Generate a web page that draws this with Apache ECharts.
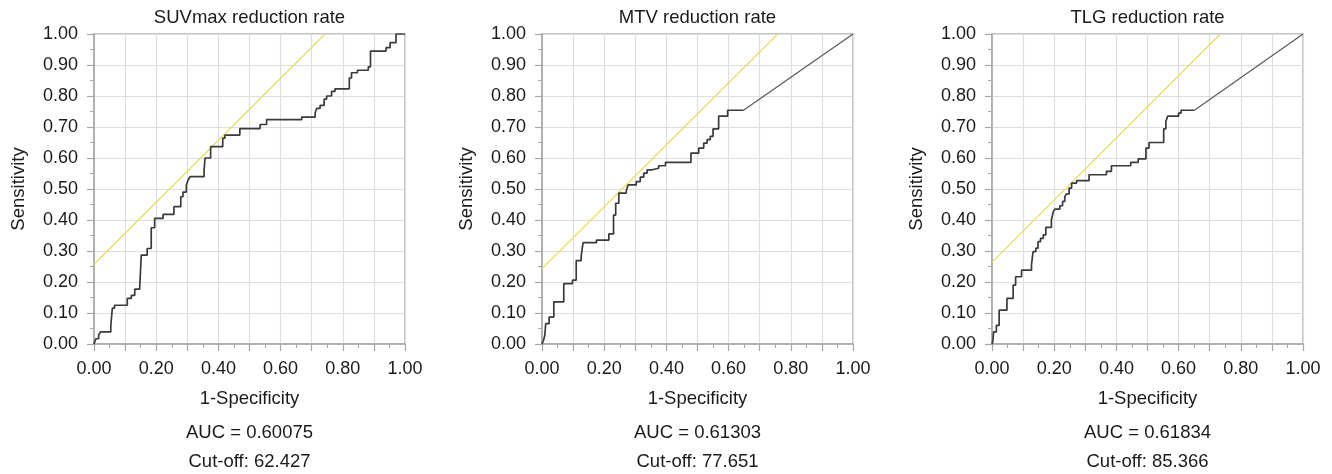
<!DOCTYPE html>
<html>
<head>
<meta charset="utf-8">
<title>ROC curves</title>
<script src="https://cdn.jsdelivr.net/npm/echarts@6/dist/echarts.min.js"></script>
<style>
html, body { margin: 0; padding: 0; background: #fff; }
#rocChart { width: 1332px; height: 474px; }
</style>
</head>
<body>
<div id="rocChart"></div>
<script>
// texts of the three panels
const panelTitles = ["SUVmax reduction rate", "MTV reduction rate", "TLG reduction rate"];
const aucValues = ["0.60075", "0.61303", "0.61834"];
const cutoffValues = ["62.427", "77.651", "85.366"];

// SUVmax: step points (1-specificity, sensitivity)
const suvFpr = [0, 0.006, 0.015, 0.021, 0.054, 0.059, 0.066, 0.107, 0.120, 0.131, 0.147, 0.152, 0.171, 0.184,
  0.195, 0.222, 0.257, 0.279, 0.286, 0.297, 0.303, 0.309, 0.354, 0.357, 0.375, 0.414, 0.421, 0.469, 0.534,
  0.555, 0.668, 0.711, 0.716, 0.727, 0.740, 0.748, 0.764, 0.775, 0.821, 0.828, 0.847, 0.882, 0.889, 0.939,
  0.952, 0.971, 1.0];
const suvTpr = [0, 0.017, 0.03, 0.039, 0.058, 0.116, 0.125, 0.147, 0.157, 0.177, 0.184, 0.287, 0.308, 0.375,
  0.405, 0.418, 0.443, 0.475, 0.49, 0.513, 0.53, 0.54, 0.56, 0.60, 0.637, 0.664, 0.674, 0.695, 0.708,
  0.724, 0.732, 0.745, 0.76, 0.77, 0.79, 0.80, 0.815, 0.823, 0.858, 0.875, 0.883, 0.894, 0.945, 0.956,
  0.972, 1.0, 1.0];
const suvRefX = [0, 0.743];
const suvRefY = [0.257, 1.0];

// MTV
const mtvFpr = [0, 0.005, 0.009, 0.012, 0.023, 0.038, 0.070, 0.098, 0.110, 0.126, 0.132, 0.175, 0.215, 0.230,
  0.237, 0.247, 0.271, 0.277, 0.303, 0.316, 0.327, 0.338, 0.354, 0.375, 0.397, 0.479, 0.504, 0.520, 0.531,
  0.541, 0.550, 0.568, 0.597, 0.648];
const mtvTpr = [0, 0.012, 0.028, 0.066, 0.087, 0.136, 0.195, 0.206, 0.269, 0.284, 0.327, 0.335, 0.355, 0.416,
  0.454, 0.487, 0.495, 0.513, 0.524, 0.538, 0.551, 0.562, 0.567, 0.575, 0.586, 0.616, 0.632, 0.648, 0.659,
  0.67, 0.694, 0.735, 0.754, 0.754];
const mtvTailX = [0.648, 1.0];
const mtvTailY = [0.754, 1.0];
const mtvRefX = [0, 0.758];
const mtvRefY = [0.243, 1.0];

// TLG
const tlgFpr = [0, 0.003, 0.005, 0.014, 0.023, 0.048, 0.068, 0.076, 0.095, 0.127, 0.132, 0.141, 0.148, 0.156,
  0.165, 0.173, 0.191, 0.197, 0.202, 0.218, 0.227, 0.234, 0.240, 0.248, 0.256, 0.272, 0.312, 0.368, 0.384,
  0.446, 0.470, 0.495, 0.505, 0.552, 0.559, 0.565, 0.600, 0.608, 0.651];
const tlgTpr = [0, 0.01, 0.039, 0.06, 0.109, 0.147, 0.19, 0.217, 0.238, 0.255, 0.298, 0.309, 0.33, 0.341,
  0.352, 0.376, 0.40, 0.427, 0.435, 0.446, 0.46, 0.476, 0.484, 0.503, 0.519, 0.527, 0.546, 0.557, 0.575,
  0.586, 0.597, 0.632, 0.65, 0.694, 0.718, 0.735, 0.745, 0.754, 0.754];
const tlgTailX = [0.651, 1.0];
const tlgTailY = [0.754, 1.0];
const tlgRefX = [0, 0.734];
const tlgRefY = [0.264, 1.0];

const FONT = "'Liberation Sans', Arial, Helvetica, sans-serif";
const gridLefts = [94, 542, 992];
const plotW = 311, plotTop = 34, plotH = 310;

function pairs(xs, ys) {
  return xs.map((x, k) => [x, ys[k]]);
}

let myChart = echarts.init(document.getElementById("rocChart"));

let grids = [], xAxes = [], yAxes = [], series = [], graphics = [];
let curves = [
  { fpr: suvFpr, tpr: suvTpr, refX: suvRefX, refY: suvRefY },
  { fpr: mtvFpr, tpr: mtvTpr, tailX: mtvTailX, tailY: mtvTailY, refX: mtvRefX, refY: mtvRefY },
  { fpr: tlgFpr, tpr: tlgTpr, tailX: tlgTailX, tailY: tlgTailY, refX: tlgRefX, refY: tlgRefY },
];

curves.forEach((c, i) => {
  let center = gridLefts[i] + plotW / 2;
  grids.push({
    left: gridLefts[i], top: plotTop, width: plotW, height: plotH,
    show: true, borderColor: "#b3b3b3", borderWidth: 1.5, backgroundColor: "#fff",
  });
  xAxes.push({
    type: "value", gridIndex: i, min: 0, max: 1, interval: 0.1,
    axisLine: { show: true, onZero: false, lineStyle: { color: "#a6a6a6", width: 1.5 } },
    axisTick: { show: true, length: 7, lineStyle: { color: "#a6a6a6", width: 1.2 } },
    minorTick: { show: true, splitNumber: 2, length: 4, lineStyle: { color: "#a6a6a6" } },
    splitLine: { show: true, lineStyle: { color: "#dddddd", width: 1.2 } },
    axisLabel: {
      margin: 16, fontSize: 18, color: "#1a1a1a", fontFamily: FONT,
      formatter: (v) => (Math.round(v * 10) % 2 === 0 ? v.toFixed(2) : ""),
    },
    name: "1-Specificity", nameLocation: "middle", nameGap: 45,
    nameTextStyle: { fontSize: 18.5, color: "#1a1a1a", fontFamily: FONT },
  });
  yAxes.push({
    type: "value", gridIndex: i, min: 0, max: 1, interval: 0.1,
    axisLine: { show: true, onZero: false, lineStyle: { color: "#a6a6a6", width: 1.5 } },
    axisTick: { show: true, length: 7, lineStyle: { color: "#a6a6a6", width: 1.2 } },
    minorTick: { show: true, splitNumber: 2, length: 4, lineStyle: { color: "#a6a6a6" } },
    splitLine: { show: true, lineStyle: { color: "#dddddd", width: 1.2 } },
    axisLabel: {
      margin: 16, fontSize: 18, color: "#1a1a1a", fontFamily: FONT,
      formatter: (v) => v.toFixed(2),
    },
    name: "Sensitivity", nameLocation: "middle", nameGap: 66, nameRotate: 90,
    nameTextStyle: { fontSize: 18.5, color: "#1a1a1a", fontFamily: FONT },
  });
  // yellow reference line
  series.push({
    type: "line", xAxisIndex: i, yAxisIndex: i, data: pairs(c.refX, c.refY),
    symbol: "none", lineStyle: { color: "#e6dc6c", width: 1.3 }, z: 3,
  });
  // ROC step curve: horizontal run at each level, then the jump
  series.push({
    type: "line", xAxisIndex: i, yAxisIndex: i, data: pairs(c.fpr, c.tpr),
    step: "end", symbol: "none", lineStyle: { color: "#3a3a3a", width: 1.7 }, z: 4,
  });
  if (c.tailX) {
    series.push({
      type: "line", xAxisIndex: i, yAxisIndex: i, data: pairs(c.tailX, c.tailY),
      symbol: "none", lineStyle: { color: "#555", width: 1.1 }, z: 4,
    });
  }
  graphics.push(
    { type: "text", x: center, y: 18, style: { text: panelTitles[i], font: "18.5px " + FONT, fill: "#1a1a1a", align: "center", verticalAlign: "middle" } },
    { type: "text", x: center, y: 433, style: { text: "AUC = " + aucValues[i], font: "18.5px " + FONT, fill: "#1a1a1a", align: "center", verticalAlign: "middle" } },
    { type: "text", x: center, y: 461.5, style: { text: "Cut-off: " + cutoffValues[i], font: "18.5px " + FONT, fill: "#1a1a1a", align: "center", verticalAlign: "middle" } }
  );
});

let options = {
  animation: false,
  grid: grids,
  xAxis: xAxes,
  yAxis: yAxes,
  series: series,
  graphic: graphics,
};
myChart.setOption(options);
</script>
</body>
</html>
